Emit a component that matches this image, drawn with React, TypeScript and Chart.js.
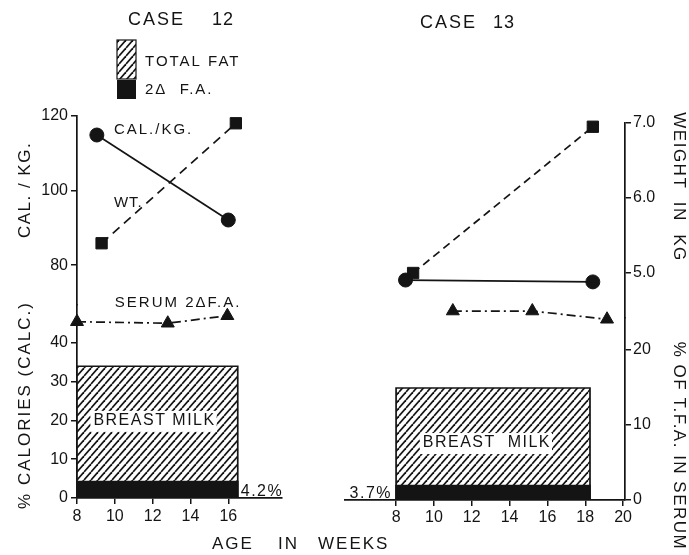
import React, { useEffect, useRef } from 'react';
import { Chart, registerables } from 'chart.js';

Chart.register(...registerables);

// ---------- data ----------
const leftWeekTicks = [8, 10, 12, 14, 16];
const rightWeekTicks = [8, 10, 12, 14, 16, 18, 20];
const calTicks = [80, 100, 120];
const pctCalTicks = [0, 10, 20, 30, 40];
const weightTicks = [5, 6, 7];
const tfaTicks = [0, 10, 20];

// Case 12
const c12CalWeeks = [9.05, 16.0];
const c12CalPerKg = [114.9, 92.1];
const c12WtWeeks = [9.3, 16.4];
const c12Weight = [5.33, 6.93];
const c12SerumWeeks = [8.0, 12.8, 15.95];
const c12Serum2DFA = [23.5, 23.3, 24.3];
const c12MilkWeeks = [8, 16.5];
const c12TotalFat = 34;
const c12TwoDeltaFA = 4.2;

// Case 13
const c13CalWeeks = [8.5, 18.4];
const c13CalPerKg = [77.1, 76.6];
const c13WtWeeks = [8.9, 18.4];
const c13Weight = [5.0, 6.95];
const c13SerumWeeks = [11.0, 15.2, 19.15];
const c13Serum2DFA = [25.2, 25.2, 24.1];
const c13MilkWeeks = [8, 18.25];
const c13TotalFat = 28.9;
const c13TwoDeltaFA = 3.7;

// ---------- styling ----------
const INK = '#141414';
const FONT = "'Liberation Sans', Arial, 'DejaVu Sans', sans-serif";

const zip = (xs: number[], ys: number[]) => xs.map((x, i) => ({ x, y: ys[i] }));
const rectPts = (span: number[], v: number) => [
  { x: span[0], y: 0 },
  { x: span[0], y: v },
  { x: span[1], y: v },
  { x: span[1], y: 0 },
];

function makeHatch(): any {
  const c = document.createElement('canvas');
  const w = 7, h = 8;
  c.width = w;
  c.height = h;
  const g = c.getContext('2d')!;
  g.fillStyle = '#fff';
  g.fillRect(0, 0, w, h);
  g.strokeStyle = INK;
  g.lineWidth = 1.7;
  for (const dx of [-w, 0, w]) {
    g.beginPath();
    g.moveTo(dx, h);
    g.lineTo(dx + w, 0);
    g.stroke();
  }
  return g.createPattern(c, 'repeat');
}

function drawText(ctx: any, s: string, x: number, y: number, o: any = {}) {
  ctx.save();
  ctx.font = `${o.weight || 'normal'} ${o.size || 16}px ${FONT}`;
  ctx.fillStyle = o.color || INK;
  ctx.textAlign = o.align || 'left';
  ctx.textBaseline = o.baseline || 'middle';
  try { ctx.letterSpacing = (o.spacing || 0) + 'px'; } catch (e) { /* ignore */ }
  if (o.bg) {
    const w = ctx.measureText(s).width;
    const x0 = o.align === 'center' ? x - w / 2 : x;
    ctx.fillStyle = '#fff';
    ctx.fillRect(x0 - 3, y - 10, w + 4, 21);
    ctx.fillStyle = o.color || INK;
  }
  if (o.rot) {
    ctx.translate(x, y);
    ctx.rotate(o.rot);
    ctx.fillText(s, 0, 0);
  } else {
    ctx.fillText(s, x, y);
  }
  ctx.restore();
}

const tickFont = { family: FONT, size: 16 };

function shownAxis(values: number[], extra: any) {
  return {
    type: 'linear',
    afterBuildTicks: (s: any) => { s.ticks = values.map((v) => ({ value: v })); },
    ticks: { font: tickFont, color: INK, padding: 3, autoSkip: false, maxRotation: 0 },
    grid: { drawOnChartArea: false, drawTicks: true, tickLength: 6, color: INK, lineWidth: 1.5 },
    border: { display: true, color: INK, width: 1.7 },
    ...extra,
  };
}

function lineDs(label: string, data: any[], yAxisID: string, style: string, radius: number, dash: number[]) {
  return {
    label,
    data,
    yAxisID,
    xAxisID: 'x',
    borderColor: INK,
    borderWidth: 1.7,
    borderDash: dash,
    pointStyle: style,
    pointRadius: radius,
    pointBackgroundColor: INK,
    pointBorderColor: INK,
    pointBorderWidth: 1,
    fill: false,
    tension: 0,
    clip: false,
    order: 0,
  };
}

function barDs(label: string, data: any[], yAxisID: string, fillStyle: any, order: number) {
  return {
    label,
    data,
    yAxisID,
    xAxisID: 'x',
    borderColor: INK,
    borderWidth: 1.7,
    backgroundColor: fillStyle,
    fill: 'origin',
    pointRadius: 0,
    tension: 0,
    order,
  };
}

function leftConfig(hatch: any): any {
  const annot = {
    id: 'case12Text',
    afterDraw(chart: any) {
      const ctx = chart.ctx;
      const sx = chart.scales.x, sCal = chart.scales.yCal, sPct = chart.scales.yPct, sTfa = chart.scales.yTfa;
      const area = chart.chartArea;
      // title
      drawText(ctx, 'CASE', 128, 20, { size: 18, spacing: 2 });
      drawText(ctx, '12', 212, 20, { size: 18, spacing: 1 });
      // legend
      ctx.save();
      ctx.fillStyle = hatch;
      ctx.fillRect(117, 40, 19, 39);
      ctx.strokeStyle = INK;
      ctx.lineWidth = 1.2;
      ctx.strokeRect(117, 40, 19, 39);
      ctx.fillStyle = INK;
      ctx.fillRect(117, 80, 19, 19);
      ctx.restore();
      drawText(ctx, 'TOTAL FAT', 145, 62, { size: 15, spacing: 2 });
      drawText(ctx, '2\u0394  F.A.', 145, 90, { size: 15, spacing: 2 });
      // series labels
      drawText(ctx, 'CAL./KG.', sx.getPixelForValue(9.95), sCal.getPixelForValue(116.2), { size: 15, spacing: 2 });
      drawText(ctx, 'WT.', sx.getPixelForValue(9.95), sCal.getPixelForValue(96.7), { size: 15, spacing: 1 });
      drawText(ctx, 'SERUM 2\u0394F.A.', sx.getPixelForValue(10.0), sTfa.getPixelForValue(26), { size: 15, spacing: 2 });
      drawText(ctx, 'BREAST MILK', sx.getPixelForValue(12.1), sPct.getPixelForValue(19.9), { size: 16, spacing: 1.5, align: 'center', bg: true });
      drawText(ctx, '4.2%', sx.getPixelForValue(c12MilkWeeks[1]) + 3, area.bottom - 2, { size: 16, spacing: 1.5, baseline: 'alphabetic' });
      // axis titles
      drawText(ctx, 'CAL. / KG.', 25, 190, { size: 17, spacing: 1.5, align: 'center', rot: -Math.PI / 2 });
      drawText(ctx, '% CALORIES (CALC.)', 25, 405, { size: 17, spacing: 2, align: 'center', rot: -Math.PI / 2 });
      drawText(ctx, 'AGE', 212, 544, { size: 17, spacing: 2 });
      drawText(ctx, 'IN', 278, 544, { size: 17, spacing: 2 });
      drawText(ctx, 'WEEKS', 318, 544, { size: 17, spacing: 2 });
    },
  };
  return {
    type: 'line',
    data: {
      datasets: [
        barDs('2\u0394 F.A.', rectPts(c12MilkWeeks, c12TwoDeltaFA), 'yPct', INK, 1),
        barDs('TOTAL FAT', rectPts(c12MilkWeeks, c12TotalFat), 'yPct', hatch, 2),
        lineDs('CAL./KG.', zip(c12CalWeeks, c12CalPerKg), 'yCal', 'circle', 7, []),
        lineDs('WT.', zip(c12WtWeeks, c12Weight), 'yWt', 'rect', 8, [9, 6]),
        lineDs('SERUM 2\u0394F.A.', zip(c12SerumWeeks, c12Serum2DFA), 'yTfa', 'triangle', 7.5, [9, 4, 2, 4]),
      ],
    },
    options: {
      responsive: false,
      animation: false,
      devicePixelRatio: 1,
      layout: { padding: { left: 0, top: 116, right: 407, bottom: 27 } },
      plugins: { legend: { display: false }, tooltip: { enabled: false }, title: { display: false } },
      scales: {
        x: shownAxis(leftWeekTicks, {
          position: 'bottom', min: 8, max: 18.84,
          afterFit: (s: any) => { s.height = 30; },
        }),
        yPct: shownAxis(pctCalTicks, {
          position: 'left', stack: 'L', stackWeight: 193, min: 0, max: 49.8,
          afterFit: (s: any) => { s.width = 77; },
        }),
        yCal: shownAxis(calTicks, {
          position: 'left', stack: 'L', stackWeight: 189, min: 69.3, max: 120,
          afterFit: (s: any) => { s.width = 77; },
        }),
        yWt: { type: 'linear', display: false, position: 'left', min: 1.933, max: 7.027 },
        yTfa: { type: 'linear', display: false, position: 'left', min: 0, max: 50.93 },
      },
    },
    plugins: [annot],
  };
}

function rightConfig(hatch: any): any {
  const annot = {
    id: 'case13Text',
    afterDraw(chart: any) {
      const ctx = chart.ctx;
      const sx = chart.scales.x, sPct = chart.scales.yPct;
      const area = chart.chartArea;
      drawText(ctx, 'CASE', 420, 23, { size: 18, spacing: 2 });
      drawText(ctx, '13', 493, 23, { size: 18, spacing: 1 });
      drawText(ctx, 'BREAST  MILK', sx.getPixelForValue(12.8), sPct.getPixelForValue(14.7), { size: 16, spacing: 1.5, align: 'center', bg: true });
      drawText(ctx, '3.7%', sx.getPixelForValue(c13MilkWeeks[0]) - 4, area.bottom - 2, { size: 16, spacing: 1.5, align: 'right', baseline: 'alphabetic' });
      drawText(ctx, 'WEIGHT  IN  KG', 679, 187, { size: 17, spacing: 1.5, align: 'center', rot: Math.PI / 2 });
      drawText(ctx, '% OF T.F.A. IN SERUM', 679, 446, { size: 17, spacing: 1.5, align: 'center', rot: Math.PI / 2 });
    },
  };
  return {
    type: 'line',
    data: {
      datasets: [
        barDs('2\u0394 F.A.', rectPts(c13MilkWeeks, c13TwoDeltaFA), 'yPct', INK, 1),
        barDs('TOTAL FAT', rectPts(c13MilkWeeks, c13TotalFat), 'yPct', hatch, 2),
        lineDs('CAL./KG.', zip(c13CalWeeks, c13CalPerKg), 'yCal', 'circle', 7, []),
        lineDs('WT.', zip(c13WtWeeks, c13Weight), 'yWt', 'rect', 8, [8, 5]),
        lineDs('SERUM 2\u0394F.A.', zip(c13SerumWeeks, c13Serum2DFA), 'yTfa', 'triangle', 7.5, [9, 4, 2, 4]),
      ],
    },
    options: {
      responsive: false,
      animation: false,
      devicePixelRatio: 1,
      layout: { padding: { left: 345, top: 123, right: 34, bottom: 25 } },
      plugins: { legend: { display: false }, tooltip: { enabled: false }, title: { display: false } },
      scales: {
        x: shownAxis(rightWeekTicks, {
          position: 'bottom', min: 5.3, max: 20.1,
          ticks: { font: tickFont, color: INK, padding: 2, autoSkip: false, maxRotation: 0 },
          afterFit: (s: any) => { s.height = 30; },
        }),
        yWt: shownAxis(weightTicks, {
          position: 'right', stack: 'R', stackWeight: 195, min: 4.4, max: 7.0,
          ticks: { font: tickFont, color: INK, padding: 2, autoSkip: false, callback: (v: any) => Number(v).toFixed(1) },
          afterFit: (s: any) => { s.width = 30; },
        }),
        yTfa: shownAxis(tfaTicks, {
          position: 'right', stack: 'R', stackWeight: 182, min: 0, max: 24.27,
          ticks: { font: tickFont, color: INK, padding: 2, autoSkip: false },
          afterFit: (s: any) => { s.width = 30; },
        }),
        yCal: { type: 'linear', display: false, position: 'left', min: 18.13, max: 119.2 },
        yPct: { type: 'linear', display: false, position: 'left', min: 0, max: 97.3 },
      },
    },
    plugins: [annot],
  };
}

export default function App() {
  const leftRef = useRef<HTMLCanvasElement>(null);
  const rightRef = useRef<HTMLCanvasElement>(null);

  useEffect(() => {
    const hatch = makeHatch();
    const left = new Chart(leftRef.current as any, leftConfig(hatch));
    const right = new Chart(rightRef.current as any, rightConfig(hatch));
    return () => {
      left.destroy();
      right.destroy();
    };
  }, []);

  return (
    <div style={{ position: 'fixed', left: 0, top: 0, width: 689, height: 555, background: '#fff' }}>
      <canvas ref={leftRef} width={689} height={555} style={{ position: 'absolute', left: 0, top: 0 }} />
      <canvas ref={rightRef} width={689} height={555} style={{ position: 'absolute', left: 0, top: 0 }} />
    </div>
  );
}
